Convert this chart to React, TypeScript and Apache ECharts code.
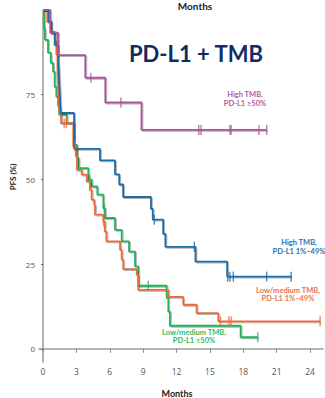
import React, { useEffect, useRef } from "react";
import * as echarts from "echarts";

// Axis ticks
const xTicks = [0, 3, 6, 9, 12, 15, 18, 21, 24];
const yTicks = [0, 25, 50, 75];

// High TMB, PD-L1 >=50%
const pinkTimes = [0, 0.65, 1.35, 3.8, 5.6, 8.85, 20.1];
const pinkSurv = [100, 93.3, 86.7, 80.0, 72.7, 64.6, 64.6];
const pinkCensor = [4.3, 7.0, 14.0, 14.2, 16.8, 16.9, 19.4, 20.1];

// High TMB, PD-L1 1%-49%
const blueTimes = [0, 0.5, 0.75, 1.05, 1.35, 1.4, 1.45, 1.5, 1.55, 1.6, 2.79, 5.12, 6.47, 6.85, 7.2, 9.7, 9.86, 10.8, 11.0, 13.7, 16.55, 22.3];
const blueSurv = [100, 96.6, 93.1, 89.7, 86.2, 82.8, 79.3, 75.9, 72.4, 69.6, 59.0, 55.6, 51.5, 48.5, 44.8, 41.3, 38.1, 33.9, 30.1, 25.7, 21.3, 21.3];
const blueCensor = [10.0, 13.6, 16.6, 16.8, 17.1, 20.1, 22.3];

// Low/medium TMB, PD-L1 1%-49%
const orangeTimes = [0, 0.38, 0.7, 1.07, 1.2, 1.3, 1.35, 1.4, 1.45, 1.5, 1.62, 2.72, 2.95, 3.05, 3.48, 3.93, 4.22, 4.37, 4.6, 4.67, 5.42, 5.55, 5.7, 6.92, 7.07, 7.21, 8.42, 8.56, 11.26, 12.6, 13.8, 15.75, 24.9];
const orangeSurv = [100, 96.5, 93.6, 90.8, 86.8, 82.5, 78.5, 75.0, 72.0, 69.1, 66.6, 59.7, 56.8, 52.8, 51.4, 49.4, 46.9, 44.0, 42.5, 39.6, 37.6, 34.6, 31.7, 29.2, 26.3, 23.5, 21.8, 17.4, 15.3, 13.0, 10.5, 8.1, 8.1];
const orangeCensor = [1.9, 2.1, 2.88, 5.45, 15.95, 16.7, 16.9, 24.9];

// Low/medium TMB, PD-L1 >=50%
const greenTimes = [0, 0.1, 0.17, 0.45, 0.7, 0.9, 1.05, 1.2, 1.35, 1.45, 2.13, 2.8, 3.05, 3.2, 4.07, 4.37, 4.88, 5.42, 5.57, 6.47, 7.07, 7.73, 8.27, 8.56, 11.11, 11.26, 11.4, 17.76, 19.3];
const greenSurv = [100, 94.5, 91.2, 87.4, 84.4, 81.8, 77.3, 74.4, 71.7, 69.1, 66.7, 60.2, 56.3, 53.3, 49.9, 47.9, 45.5, 41.5, 38.6, 35.1, 31.7, 28.7, 24.3, 18.6, 15.0, 11.0, 6.8, 3.4, 3.4];
const greenCensor = [4.2, 5.5, 9.46, 19.3];

const curves = [
  { name: "green", times: greenTimes, surv: greenSurv, censor: greenCensor, color: "#22b35a" },
  { name: "orange", times: orangeTimes, surv: orangeSurv, censor: orangeCensor, color: "#ec6a37" },
  { name: "blue", times: blueTimes, surv: blueSurv, censor: blueCensor, color: "#1f6ca8" },
  { name: "pink", times: pinkTimes, surv: pinkSurv, censor: pinkCensor, color: "#a9569b" },
];

function survAt(times: number[], surv: number[], t: number) {
  let v = surv[0];
  for (let i = 0; i < times.length; i++) {
    if (times[i] <= t + 1e-9) v = surv[i];
  }
  return v;
}

export default function App() {
  const ref = useRef<HTMLDivElement>(null);
  useEffect(() => {
    if (!ref.current) return;
    const chart = echarts.init(ref.current, undefined, { renderer: "svg" });
    const series: any[] = [];
    curves.forEach((c) => {
      series.push({
        type: "line",
        name: c.name,
        step: "end",
        symbol: "none",
        data: c.times.map((t, i) => [t, c.surv[i]]),
        lineStyle: {
          color: c.color,
          width: 1.8,
          shadowColor: "rgba(0,0,0,0.3)",
          shadowBlur: 1.5,
          shadowOffsetX: 1,
          shadowOffsetY: 1,
        },
        z: 2,
      });
      series.push({
        type: "scatter",
        name: c.name + "-censor",
        symbol: "rect",
        symbolSize: [1.4, 10],
        data: c.censor.map((t) => [t, survAt(c.times, c.surv, t)]),
        itemStyle: { color: c.color },
        z: 3,
      });
    });
    const boldFont = "Lato, 'Open Sans', sans-serif";
    chart.setOption({
      animation: false,
      grid: { left: 39, right: 2, top: 10, bottom: 36, outerBoundsMode: "none" },
      xAxis: {
        type: "value",
        min: -0.36,
        max: 25.16,
        axisLine: { show: true, lineStyle: { color: "#9a9a9a", width: 1.5 } },
        axisTick: { show: true, customValues: xTicks, length: 4, lineStyle: { color: "#8a8a8a" } },
        axisLabel: { customValues: xTicks, color: "#555", fontSize: 8.5, margin: 5, fontFamily: "'Open Sans', sans-serif" },
        splitLine: { show: false },
      },
      yAxis: {
        type: "value",
        min: -3.9,
        max: 100,
        axisLine: { show: true, lineStyle: { color: "#9a9a9a", width: 1.5 } },
        axisTick: { show: true, customValues: yTicks, length: 2, lineStyle: { color: "#666" } },
        axisLabel: { customValues: yTicks, color: "#555", fontSize: 8, margin: 4, fontFamily: "'Open Sans', sans-serif" },
        splitLine: { show: false },
      },
      graphic: [
        { type: "text", x: 195, y: 6, style: { text: "Months", fontSize: 10, fontWeight: "bold", fontFamily: boldFont, fill: "#222", align: "center", verticalAlign: "middle" } },
        { type: "text", x: 177, y: 393, style: { text: "Months", fontSize: 9, fontWeight: "bold", fontFamily: boldFont, fill: "#222", align: "center", verticalAlign: "middle" } },
        { type: "text", x: 13, y: 177, rotation: Math.PI / 2, style: { text: "PFS (%)", fontSize: 8, fontWeight: "bold", fontFamily: boldFont, fill: "#222", align: "center", verticalAlign: "middle" } },
        { type: "text", x: 196, y: 53, style: { text: "PD-L1 + TMB", fontSize: 22, fontWeight: "bold", fontFamily: boldFont, fill: "#0f2d62", align: "center", verticalAlign: "middle" } },
        { type: "text", x: 245, y: 98.5, style: { text: "High TMB,\nPD-L1 ≥50%", fontSize: 7.5, lineHeight: 9, fontWeight: "bold", fontFamily: boldFont, fill: "#b45aa0", align: "center", verticalAlign: "middle" } },
        { type: "text", x: 299, y: 247, style: { text: "High TMB,\nPD-L1 1%–49%", fontSize: 7.5, lineHeight: 8.5, fontWeight: "bold", fontFamily: boldFont, fill: "#2e72ad", align: "center", verticalAlign: "middle" } },
        { type: "text", x: 288, y: 294.7, style: { text: "Low/medium TMB,\nPD-L1 1%–49%", fontSize: 7.5, lineHeight: 8, fontWeight: "bold", fontFamily: boldFont, fill: "#ec7147", align: "center", verticalAlign: "middle" } },
        { type: "text", x: 194, y: 336.5, style: { text: "Low/medium TMB,\nPD-L1 ≥50%", fontSize: 7.5, lineHeight: 8, fontWeight: "bold", fontFamily: boldFont, fill: "#36b766", align: "center", verticalAlign: "middle" } },
      ],
      series,
    });
    return () => chart.dispose();
  }, []);
  return <div ref={ref} style={{ position: "fixed", left: 0, top: 0, width: 325, height: 398, background: "#fff" }} />;
}
